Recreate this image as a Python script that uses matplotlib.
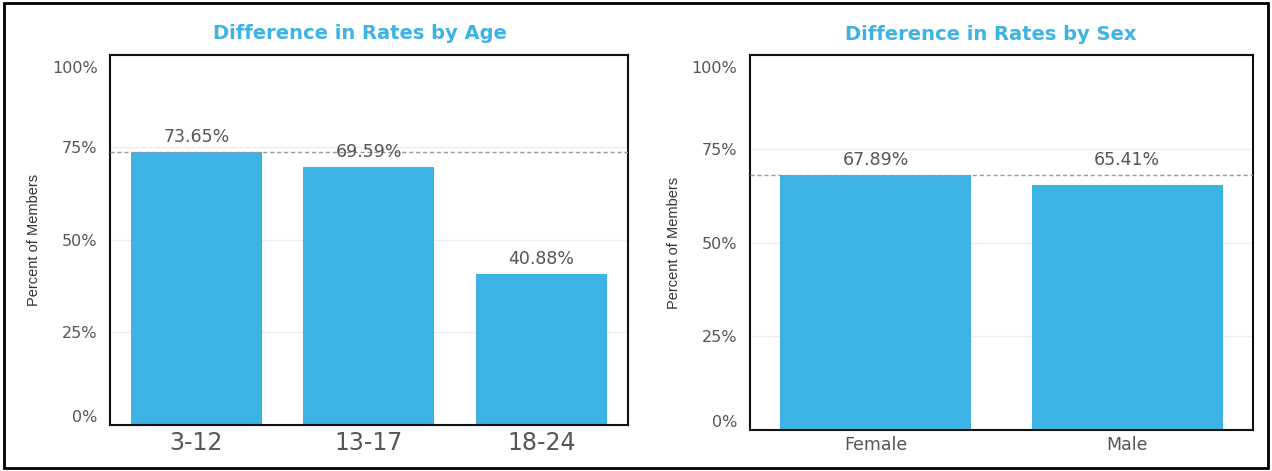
import matplotlib.pyplot as plt
from matplotlib.patches import Rectangle
from matplotlib.transforms import ScaledTranslation

age_groups = ["3-12", "13-17", "18-24"]
age_rates = [73.65, 69.59, 40.88]
sexes = ["Female", "Male"]
sex_rates = [67.89, 65.41]
y_ticks = [0, 25, 50, 75, 100]

bar_color = "#3cb3e4"
title_color = "#3cb3e4"
text_color = "#555555"

plt.rcParams["font.family"] = ["DejaVu Sans"]

fig = plt.figure(figsize=(12.72, 4.71), dpi=100)
fig.patches.append(Rectangle((0.003, 0.006), 0.994, 0.988, transform=fig.transFigure,
                             fill=False, edgecolor="black", linewidth=2))

ax0 = fig.add_axes([0.0865, 0.0977, 0.407, 0.786])
ax1 = fig.add_axes([0.5896, 0.087, 0.3954, 0.796])


def draw(ax, cats, vals, title, xfont, title_x):
    x = range(len(cats))
    ax.bar(x, vals, width=0.76, color=bar_color, zorder=2)
    ax.set_xlim(-0.5, len(cats) - 0.5)
    ax.set_ylim(0, 100)
    ref = max(vals)
    ax.axhline(ref, color="#999999", linestyle=(0, (3, 2)), linewidth=1, zorder=3)
    for i, v in enumerate(vals):
        y = v + 1.6
        # keep label clear of the reference line
        if y < ref < y + 2.0:
            y = ref + 1.8
        ax.text(i, y, "%.2f%%" % v, ha="center", va="bottom",
                fontsize=12.5, color=text_color, zorder=4)
    ax.set_yticks(y_ticks)
    ax.set_yticklabels(["%d%%" % t for t in y_ticks], fontsize=11.5, color=text_color)
    ax.set_xticks(list(x))
    ax.set_xticklabels(cats, fontsize=xfont, color=text_color)
    ax.tick_params(axis="y", length=0, pad=9)
    ax.tick_params(axis="x", length=0, pad=4)
    labels = ax.get_yticklabels()
    labels[0].set_va("bottom")
    labels[-1].set_va("top")
    labels[-1].set_transform(labels[-1].get_transform()
                             + ScaledTranslation(0, -6 / 100, fig.dpi_scale_trans))
    ax.yaxis.grid(True, color="#eeeeee", linewidth=1, zorder=0)
    ax.set_axisbelow(True)
    for s in ax.spines.values():
        s.set_linewidth(1.5)
        s.set_color("#111111")
    ax.set_ylabel("Percent of Members", fontsize=10.5, color="#333333", labelpad=8,
                  family=["Liberation Sans", "DejaVu Sans"])
    ax.set_title(title, color=title_color, fontsize=14, fontweight="bold", pad=11,
                 x=title_x)


draw(ax0, age_groups, age_rates, "Difference in Rates by Age", 17, 0.483)
draw(ax1, sexes, sex_rates, "Difference in Rates by Sex", 12.5, 0.478)

fig.savefig("out.png", dpi=100)
